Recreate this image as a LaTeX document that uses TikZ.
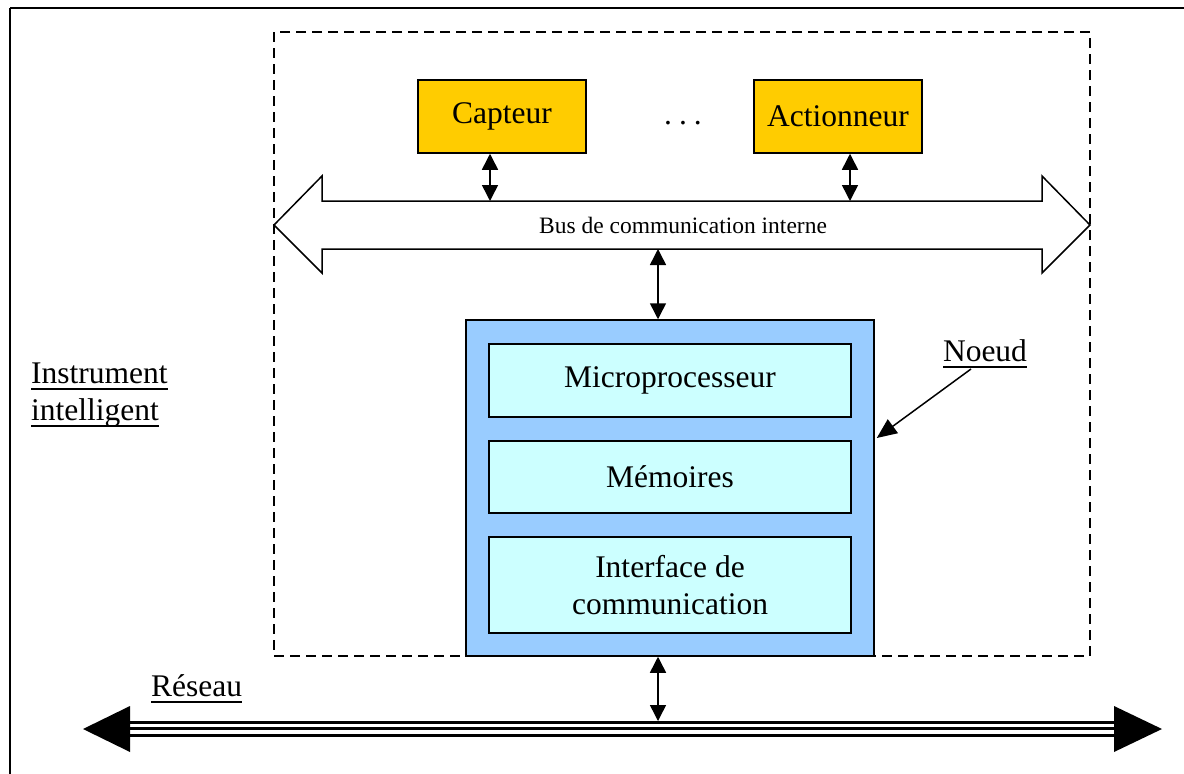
\documentclass[tikz,border=0pt]{standalone}
\usepackage{fontspec}
\setmainfont{Liberation Serif}
\usetikzlibrary{arrows.meta}
\definecolor{capyellow}{HTML}{FFCC00}
\definecolor{nodeblue}{HTML}{99CCFF}
\definecolor{boxcyan}{HTML}{CCFFFF}
\newcommand\myuline[1]{\setbox0\hbox{#1}\rlap{\vrule height -4.5pt depth 6.5pt width \wd0}\box0}
\tikzset{
  bigfont/.style={font=\fontsize{31.5}{37}\selectfont},
  devbox/.style={draw, line width=1.5pt, fill=capyellow, minimum width=168pt, minimum height=73pt, inner sep=0pt, bigfont},
  subbox/.style={draw, line width=1.5pt, fill=boxcyan, minimum width=362pt, inner sep=0pt, bigfont, align=center},
  biarrow/.style={line width=1.5pt, {Triangle[width=16pt,length=16pt]}-{Triangle[width=16pt,length=16pt]}},
  lbl/.style={inner sep=0pt, bigfont},
}
\begin{document}
\begin{tikzpicture}[x=1pt,y=-1pt]
\useasboundingbox (0,0) rectangle (1184,774);
% outer frame (cropped at right and bottom)
\draw[line width=2pt] (10,8) -- (10,790) (10,8) -- (1195,8);
% dashed instrument box
\draw[line width=1.5pt, dash pattern=on 10pt off 6pt] (274,32) rectangle (1090,656);
% internal bus
\draw[line width=1.5pt, fill=white, line join=miter] (274,225) -- (322,176) -- (322,201) -- (1042,201) -- (1042,176) -- (1090,225) -- (1042,273) -- (1042,249) -- (322,249) -- (322,273) -- cycle;
\node[inner sep=0pt, font=\fontsize{23.5}{28}\selectfont] (buslbl) at (683,225) {Bus de communication interne};
\coordinate (bustop) at (683,201);
\coordinate (busbot) at (683,249);
% devices
\node[devbox] (cap) at (502,116.5) {Capteur};
\node[devbox] (act) at (838,116.5) {Actionneur};
\node[lbl] (dots) at (683,123) {.\hspace{7pt}.\hspace{7pt}.};
\draw[biarrow] ([xshift=-12pt]cap.south) -- ([xshift=-12pt]cap.south |- bustop);
\draw[biarrow] ([xshift=12pt]act.south) -- ([xshift=12pt]act.south |- bustop);
% node
\node[draw, line width=1.5pt, fill=nodeblue, minimum width=408pt, minimum height=336pt, inner sep=0pt] (noeud) at (670,488) {};
\node[subbox, minimum height=73pt] (micro) at (670,380.5) {Microprocesseur};
\node[subbox, minimum height=72pt] (mem) at (670,477) {Mémoires};
\node[subbox, minimum height=96pt] (iface) at (670,585) {Interface de\\communication};
\draw[biarrow] ([xshift=-12pt]noeud.north |- busbot) -- ([xshift=-12pt]noeud.north);
% labels
\node[lbl, anchor=base] (noeudlbl) at (985,361) {\myuline{Noeud}};
\coordinate (noeudtail) at (971,369);
\draw[line width=1.5pt, -{Triangle[width=17pt,length=20pt]}] (noeudtail) -- ([xshift=2pt,yshift=50pt]noeud.east);
\node[lbl, anchor=base west] (instr1) at (31,383) {\myuline{Instrument}};
\node[lbl, anchor=base west] (instr2) at (31,420) {\myuline{intelligent}};
\node[lbl, anchor=base west] (reseaulbl) at (151,696) {\myuline{Réseau}};
% network
\coordinate (netL) at (83,729);
\coordinate (netR) at (1162,729);
\draw[line width=16pt] (125,728.5) -- (1120,728.5);
\draw[line width=10pt, white] (125,728.5) -- (1120,728.5);
\draw[line width=3pt] (125,728.5) -- (1120,728.5);
\fill (netL) -- (130,706) -- (130,752) -- cycle;
\fill (netR) -- (1114,706) -- (1114,752) -- cycle;
\coordinate (nettop) at (683,721);
\draw[biarrow] ([xshift=-12pt]noeud.south) -- ([xshift=-12pt]noeud.south |- nettop);
\end{tikzpicture}
\end{document}
